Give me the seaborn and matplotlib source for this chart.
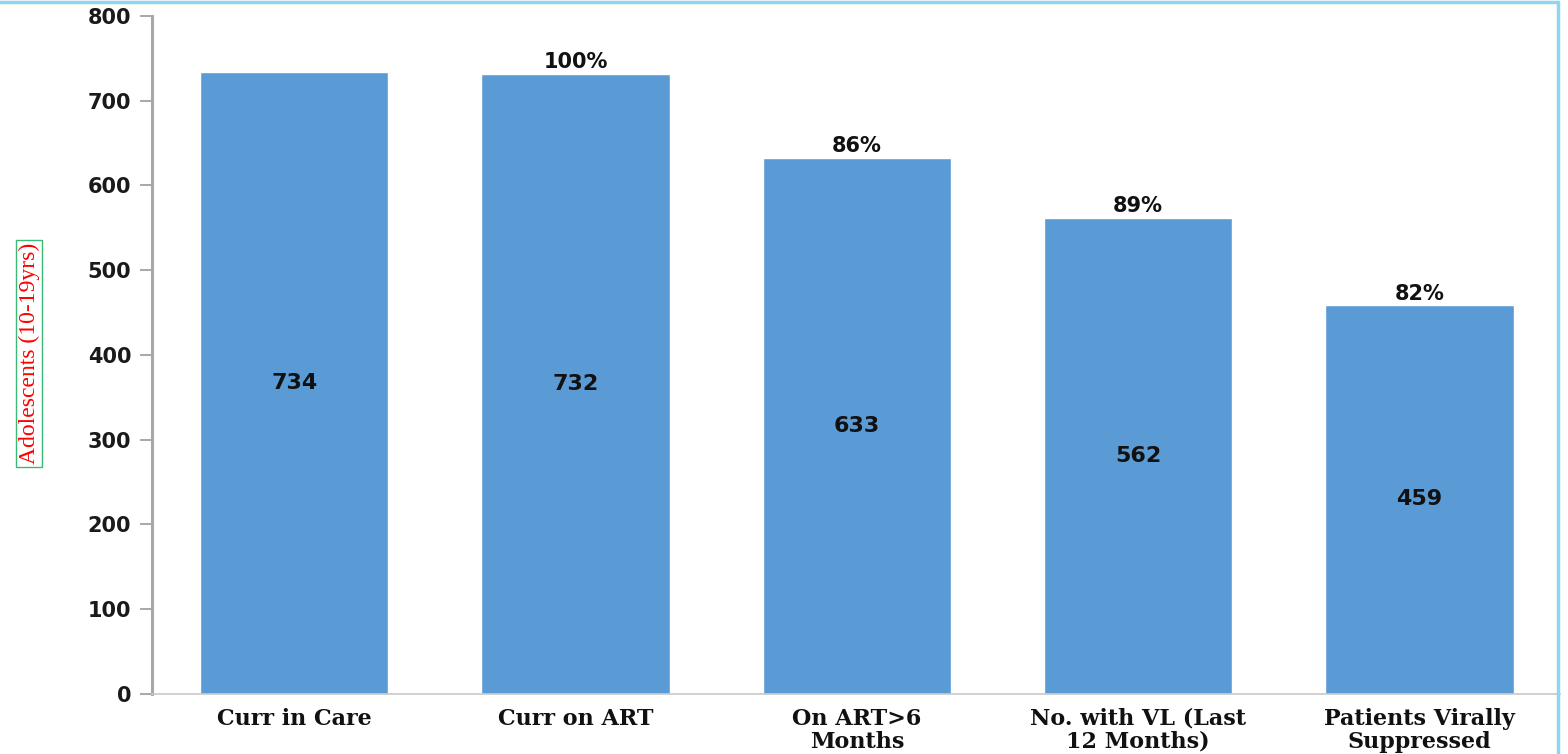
import matplotlib
matplotlib.use("Agg")
import matplotlib.pyplot as plt
from matplotlib.lines import Line2D
import seaborn as sns
import pandas as pd

# Chart data
stages = ["Curr in Care", "Curr on ART", "On ART>6\nMonths",
          "No. with VL (Last\n12 Months)", "Patients Virally\nSuppressed"]
counts = [734, 732, 633, 562, 459]
pct_labels = ["", "100%", "86%", "89%", "82%"]
y_ticks = [0, 100, 200, 300, 400, 500, 600, 700, 800]

bar_color = "#5B9BD5"

sns.set_theme(style="white")
plt.rcParams["font.family"] = ["DejaVu Sans"]

df = pd.DataFrame({"stage": stages, "count": counts})

fig = plt.figure(figsize=(15.68, 7.54), dpi=100)
ax = fig.add_axes([0.097, 0.0796, 0.898, 0.8992])

sns.barplot(data=df, x="stage", y="count", color=bar_color, width=0.67,
            saturation=1, ax=ax)

ax.set_xlim(-0.505, 4.5)
ax.set_ylim(0, 800)
ax.set_yticks(y_ticks)
ax.set_yticklabels([str(t) for t in y_ticks], fontsize=15, fontweight="bold",
                   color="#1a1a1a")
ax.set_xticks(range(len(stages)))
ax.set_xticklabels(stages, fontsize=16, fontweight="bold", family="DejaVu Serif",
                   linespacing=1.05, color="#111111")
ax.set_xlabel("")
ax.set_ylabel("")

ax.tick_params(axis="y", direction="out", length=9, width=1.2, color="#9a9a9a",
               pad=6, left=True)
ax.tick_params(axis="x", length=0, pad=10)

for side in ["top", "right"]:
    ax.spines[side].set_visible(False)
ax.spines["left"].set_color("#a8a8a8")
ax.spines["left"].set_linewidth(2.2)
ax.spines["bottom"].set_color("#c8c8c8")
ax.spines["bottom"].set_linewidth(1.2)

# value labels inside and step percentages above bars
for i, (c, p) in enumerate(zip(counts, pct_labels)):
    ax.text(i, c / 2, str(c), ha="center", va="center", fontsize=16,
            fontweight="bold", color="#111111")
    if p:
        ax.annotate(p, (i, c), xytext=(0, 1), textcoords="offset points",
                    ha="center", va="bottom", fontsize=15, fontweight="bold",
                    color="#111111")

# y axis title in a green box
fig.text(0.0185, 0.531, "Adolescents (10-19yrs)", rotation=90, ha="center",
         va="center", fontsize=17, color="red", family="Liberation Serif",
         bbox=dict(boxstyle="square,pad=0.12", facecolor="white",
                   edgecolor="#3cb878", linewidth=1))

# light blue frame along the top and right
fig.add_artist(Line2D([0.0, 0.9935], [0.997, 0.997], color="#8ed6f4", lw=2.5,
                      transform=fig.transFigure))
fig.add_artist(Line2D([0.9935, 0.9935], [0.0, 0.997], color="#8ed6f4", lw=2.5,
                      transform=fig.transFigure))

fig.savefig("out.png", dpi=100)
